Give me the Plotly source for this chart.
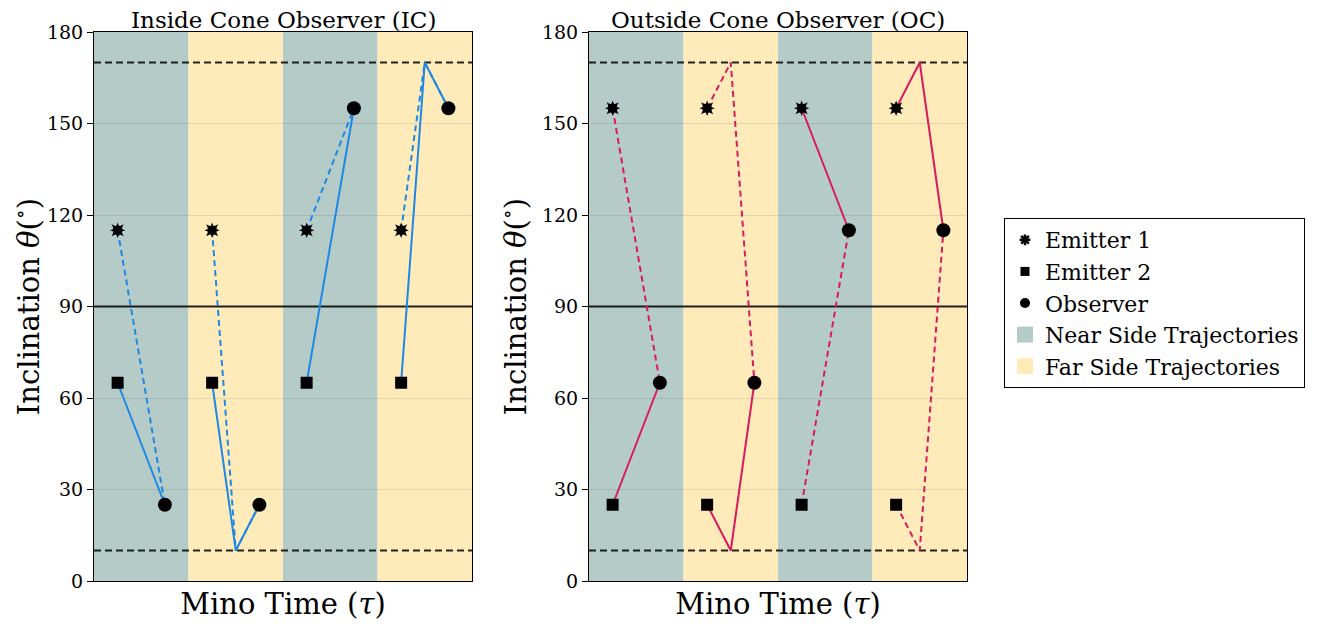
import plotly.graph_objects as go

# ---------------- data ----------------
band_types = ["Near", "Far", "Near", "Far"]
band_edges = [0, 1, 2, 3, 4]
band_colors = {"Near": "#b5cbc8", "Far": "#feebb9"}
band_names = {"Near": "Near Side Trajectories", "Far": "Far Side Trajectories"}

emit_tau = [0.25, 1.25, 2.25, 3.25]
turn_tau = [0.5, 1.5, 2.5, 3.5]
obs_tau = [0.75, 1.75, 2.75, 3.75]

# Inside Cone observer
ic_emitter1 = [115, 115, 115, 115]
ic_emitter2 = [65, 65, 65, 65]
ic_observer = [25, 25, 155, 155]
ic_turn1 = [None, 10, None, 170]
ic_turn2 = [None, 10, None, 170]
ic_style1 = ["dash", "dash", "dash", "dash"]
ic_style2 = ["solid", "solid", "solid", "solid"]

# Outside Cone observer
oc_emitter1 = [155, 155, 155, 155]
oc_emitter2 = [25, 25, 25, 25]
oc_observer = [65, 65, 115, 115]
oc_turn1 = [None, 170, None, 170]
oc_turn2 = [None, 10, None, 10]
oc_style1 = ["dash", "dash", "solid", "solid"]
oc_style2 = ["solid", "solid", "dash", "dash"]

pole_lines = [10, 170]
equator = 90
y_ticks = [0, 30, 60, 90, 120, 150, 180]

IC_COLOR = "#1E88E5"
OC_COLOR = "#D81B60"
FONT = "DejaVu Serif"

fig = go.Figure()


def path_traces(emit, turn, obs, styles, color, xa, ya):
    groups = {"solid": ([], []), "dash": ([], [])}
    for i in range(len(emit)):
        xs = [emit_tau[i]]
        ys = [emit[i]]
        if turn[i] is not None:
            xs.append(turn_tau[i])
            ys.append(turn[i])
        xs.append(obs_tau[i])
        ys.append(obs[i])
        gx, gy = groups[styles[i]]
        gx += xs + [None]
        gy += ys + [None]
    out = []
    for style, (gx, gy) in groups.items():
        if gx:
            out.append(go.Scatter(
                x=gx, y=gy, mode="lines", xaxis=xa, yaxis=ya,
                line=dict(color=color, width=2,
                          dash="6px,4px" if style == "dash" else "solid"),
                showlegend=False, hoverinfo="skip"))
    return out


def marker_traces(e1, e2, obs, xa, ya):
    out = []
    for sym in ["star-square", "star-diamond"]:
        out.append(go.Scatter(x=emit_tau, y=e1, mode="markers", xaxis=xa, yaxis=ya,
                              marker=dict(symbol=sym, size=11, color="black"),
                              showlegend=False, hoverinfo="skip"))
    out.append(go.Scatter(x=emit_tau, y=e2, mode="markers", xaxis=xa, yaxis=ya,
                          marker=dict(symbol="square", size=12, color="black"),
                          showlegend=False, hoverinfo="skip"))
    out.append(go.Scatter(x=obs_tau, y=obs, mode="markers", xaxis=xa, yaxis=ya,
                          marker=dict(symbol="circle", size=14, color="black"),
                          showlegend=False, hoverinfo="skip"))
    return out


panels = [
    ("x", "y", ic_emitter1, ic_emitter2, ic_observer, ic_turn1, ic_turn2,
     ic_style1, ic_style2, IC_COLOR),
    ("x2", "y2", oc_emitter1, oc_emitter2, oc_observer, oc_turn1, oc_turn2,
     oc_style1, oc_style2, OC_COLOR),
]

shapes = []
for xa, ya, e1, e2, ob, t1, t2, s1, s2, col in panels:
    # background bands
    for i, bt in enumerate(band_types):
        shapes.append(dict(type="rect", xref=xa, yref=ya + " domain",
                           x0=band_edges[i], x1=band_edges[i + 1], y0=0, y1=1,
                           fillcolor=band_colors[bt], line=dict(width=0), layer="below"))
    # reference lines
    for yv in pole_lines:
        shapes.append(dict(type="line", xref=xa + " domain", yref=ya,
                           x0=0, x1=1, y0=yv, y1=yv, layer="below",
                           line=dict(color="rgba(0,0,0,0.85)", width=1.8, dash="7px,4px")))
    shapes.append(dict(type="line", xref=xa + " domain", yref=ya,
                       x0=0, x1=1, y0=equator, y1=equator, layer="below",
                       line=dict(color="rgba(0,0,0,0.85)", width=1.8)))
    for tr in path_traces(e1, t1, ob, s1, col, xa, ya):
        fig.add_trace(tr)
    for tr in path_traces(e2, t2, ob, s2, col, xa, ya):
        fig.add_trace(tr)
    for tr in marker_traces(e1, e2, ob, xa, ya):
        fig.add_trace(tr)

# legend entries
fig.add_trace(go.Scatter(x=[None], y=[None], mode="markers", name="Emitter 1",
                         marker=dict(symbol="asterisk", size=9,
                                     line=dict(color="black", width=2.5), color="black")))
fig.add_trace(go.Scatter(x=[None], y=[None], mode="markers", name="Emitter 2",
                         marker=dict(symbol="square", size=9, color="black")))
fig.add_trace(go.Scatter(x=[None], y=[None], mode="markers", name="Observer",
                         marker=dict(symbol="circle", size=10, color="black")))
for bt in ["Near", "Far"]:
    fig.add_trace(go.Scatter(x=[None], y=[None], mode="markers", name=band_names[bt],
                             marker=dict(symbol="square", size=22, color=band_colors[bt])))

W, H = 1335, 626
OFF = 8  # page body margin offset
ytop, ybot = 32 - OFF, 581 - OFF
ydom = [(H - ybot) / H, (H - ytop) / H]

yaxis_common = dict(range=[0, 180], tickvals=y_ticks, ticks="outside", ticklen=6,
                    tickwidth=1, tickcolor="black", showline=True, mirror=True,
                    linecolor="black", linewidth=1, showgrid=True,
                    gridcolor="rgba(0,0,0,0.09)", gridwidth=1, zeroline=False,
                    automargin=False,
                    tickfont=dict(family=FONT, size=19, color="black"),
                    title=dict(text="Inclination <i>θ</i>(<sup>∘</sup>)",
                               font=dict(family=FONT, size=29, color="black"),
                               standoff=6),
                    domain=ydom)
xaxis_common = dict(range=[0, 4], showticklabels=False, ticks="", showline=True,
                    mirror=True, linecolor="black", linewidth=1, showgrid=False,
                    zeroline=False, automargin=False,
                    title=dict(text="Mino Time (<i>τ</i>)",
                               font=dict(family=FONT, size=29, color="black"),
                               standoff=12))

fig.update_layout(
    width=W, height=H,
    margin=dict(l=0, r=0, t=0, b=0, autoexpand=False),
    paper_bgcolor="white", plot_bgcolor="white",
    font=dict(family=FONT, color="black"),
    xaxis=dict(xaxis_common, domain=[(94 - OFF) / W, (472 - OFF) / W], anchor="y"),
    yaxis=dict(yaxis_common, anchor="x"),
    xaxis2=dict(xaxis_common, domain=[(589 - OFF) / W, (967 - OFF) / W], anchor="y2"),
    yaxis2=dict(yaxis_common, anchor="x2"),
    shapes=shapes,
    showlegend=True,
    legend=dict(x=(1004 - OFF) / W, y=(H - (218 - OFF)) / H, xanchor="left", yanchor="top",
                bordercolor="black", borderwidth=1, bgcolor="white",
                font=dict(family=FONT, size=22, color="black"),
                itemsizing="trace", tracegroupgap=0),
    annotations=[
        dict(text="Inside Cone Observer (IC)", xref="x domain", yref="y domain",
             x=0.5, y=1, xanchor="center", yanchor="bottom", showarrow=False,
             font=dict(family=FONT, size=23, color="black"), yshift=-2, borderpad=0),
        dict(text="Outside Cone Observer (OC)", xref="x2 domain", yref="y2 domain",
             x=0.5, y=1, xanchor="center", yanchor="bottom", showarrow=False,
             font=dict(family=FONT, size=23, color="black"), yshift=-2, borderpad=0),
    ],
)

fig.write_html("out.html")
